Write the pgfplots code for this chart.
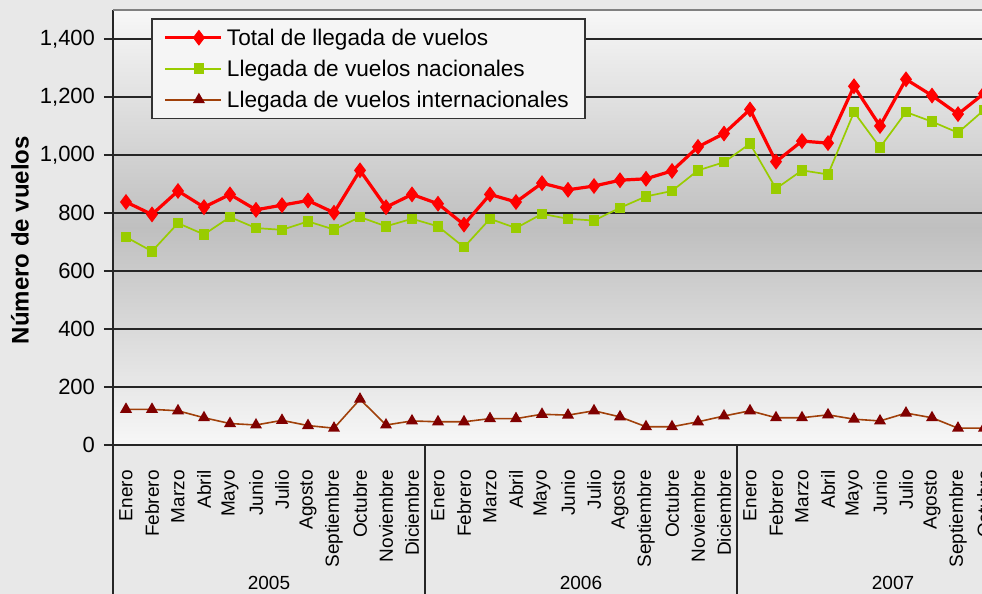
\documentclass[border=0pt]{standalone}
\usepackage{pgfplots}
\pgfplotsset{compat=1.18}
\usepackage{fontspec}
\setmainfont{Liberation Sans}
\definecolor{totred}{HTML}{FF0000}
\definecolor{nacgreen}{HTML}{99CC00}
\definecolor{intline}{HTML}{A0400A}
\definecolor{intmark}{HTML}{800000}
\definecolor{bgout}{HTML}{E8E8E8}

% index: 0 = Enero 2005 ... 33 = Octubre 2007
\pgfplotstableread{
x total nac int
0 838 717 123
1 795 668 123
2 876 765 118
3 820 726 94
4 864 786 74
5 811 748 69
6 827 742 85
7 843 771 67
8 801 743 58
9 947 786 158
10 820 754 69
11 864 780 83
12 832 754 80
13 760 682 80
14 864 780 91
15 838 748 91
16 903 797 106
17 880 780 103
18 893 774 118
19 913 818 97
20 918 857 63
21 945 876 63
22 1028 947 80
23 1074 975 100
24 1157 1039 118
25 977 884 94
26 1048 947 94
27 1041 933 104
28 1237 1148 89
29 1100 1026 83
30 1261 1148 110
31 1205 1115 94
32 1141 1077 58
33 1212 1155 58
}\vuelos

\begin{document}
\begin{tikzpicture}
\useasboundingbox (0,0) rectangle (491bp,297bp);
\fill[bgout] (0,0) rectangle (491bp,297bp);
\clip (0,0) rectangle (491bp,297bp);
\begin{axis}[
    at={(56.5bp,74.5bp)}, anchor=south west,
    scale only axis, width=468bp, height=217.5bp,
    xmin=-0.5, xmax=35.5, ymin=0, ymax=1500,
    clip=false,
    axis lines*=left,
    axis line style={-, black!85, line width=0.8bp},
    axis background/.style={top color=white!97!black, bottom color=white!97!black, middle color=black!25},
    ymajorgrids, grid style={black!85, line width=0.8bp},
    ytick={0,200,...,1400},
    ytick pos=left, tick align=outside,
    major tick length=4.5bp,
    ytick style={black!85, line width=0.8bp},
    xtick=data, xtick style={draw=none},
    xticklabels={Enero,Febrero,Marzo,Abril,Mayo,Junio,Julio,Agosto,Septiembre,Octubre,Noviembre,Diciembre,
                 Enero,Febrero,Marzo,Abril,Mayo,Junio,Julio,Agosto,Septiembre,Octubre,Noviembre,Diciembre,
                 Enero,Febrero,Marzo,Abril,Mayo,Junio,Julio,Agosto,Septiembre,Octubre},
    x tick label style={rotate=90, anchor=east, inner sep=0pt, font=\fontsize{9.5bp}{11bp}\selectfont},
    xticklabel shift=8bp,
    y tick label style={font=\fontsize{11bp}{13bp}\selectfont},
    yticklabel shift=1bp,
    /pgf/number format/assume math mode=true,
    /pgf/number format/1000 sep={,},
    legend cell align=left,
    legend style={at={(0.0406,0.9816)}, anchor=north west,
        fill=white!96!black, draw=black!80, line width=0.8bp,
        font=\fontsize{11.3bp}{13bp}\selectfont,
        inner xsep=6bp, inner ysep=2bp, row sep=0.6bp,
        nodes={text height=10bp, text depth=2.5bp, inner ysep=1.2bp}},
    legend image code/.code={
        \path (0bp,0bp) -- (28bp,0bp);
        \draw[mark repeat=2, mark phase=2] plot coordinates {(5.5bp,0bp) (16.75bp,0bp) (28bp,0bp)};},
]
\addplot[totred, line width=1.6bp, mark=diamond*, mark size=3.6bp, mark options={solid, fill=totred, line width=0.5bp}]
    table[x=x, y=total] {\vuelos};
\addlegendentry{Total de llegada de vuelos}
\addplot[nacgreen, line width=0.85bp, mark=square*, mark size=2.2bp, mark options={solid, fill=nacgreen, draw=nacgreen}]
    table[x=x, y=nac] {\vuelos};
\addlegendentry{Llegada de vuelos nacionales}
\addplot[intline, line width=0.8bp, mark=triangle*, mark size=2.7bp, mark options={solid, fill=intmark, draw=intmark}]
    table[x=x, y=int] {\vuelos};
\addlegendentry{Llegada de vuelos internacionales}

\draw[black!50, line width=0.6bp] (axis cs:-0.5,1500) -- (axis cs:35.5,1500);
\draw[black!85, line width=0.6bp] (axis cs:-0.5,0) -- ++(0bp,-80bp);
\draw[black!85, line width=0.6bp] (axis cs:11.5,0) -- ++(0bp,-80bp);
\draw[black!85, line width=0.6bp] (axis cs:23.5,0) -- ++(0bp,-80bp);
\node[font=\fontsize{9.5bp}{11bp}\selectfont, yshift=-69bp] at (axis cs:5.5,0) {2005};
\node[font=\fontsize{9.5bp}{11bp}\selectfont, yshift=-69bp] at (axis cs:17.5,0) {2006};
\node[font=\fontsize{9.5bp}{11bp}\selectfont, yshift=-69bp] at (axis cs:29.5,0) {2007};
\end{axis}
\node[rotate=90, font=\bfseries\fontsize{12bp}{14bp}\selectfont] at (10bp,177bp) {Número de vuelos};
\end{tikzpicture}
\end{document}
